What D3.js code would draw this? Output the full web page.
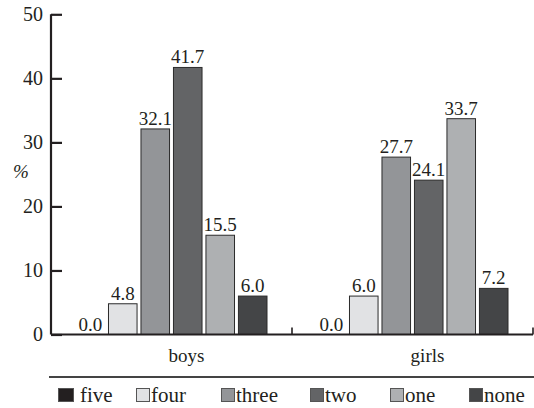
<!DOCTYPE html>
<html>
<head>
<meta charset="utf-8">
<script src="https://cdn.jsdelivr.net/npm/d3@7/dist/d3.min.js"></script>
<style>
  html, body { margin: 0; padding: 0; background: #fff; }
  svg { display: block; }
  svg text { font-family: "Liberation Serif", "Times New Roman", serif !important; fill: #231f20; }
  svg text.pct { font-style: italic; }
</style>
</head>
<body>
<svg id="chart" width="534" height="408"></svg>
<script>
// Share of children by number of items, per group (%)
const groups = ["boys", "girls"];
const series = ["five", "four", "three", "two", "one", "none"];
const boysValues = [0.0, 4.8, 32.1, 41.7, 15.5, 6.0];
const girlsValues = [0.0, 6.0, 27.7, 24.1, 33.7, 7.2];
const yTicks = [0, 10, 20, 30, 40, 50];
const seriesColors = ["#231f20", "#e1e2e4", "#939598", "#636466", "#aeb0b2", "#444547"];

const valuesByGroup = { boys: boysValues, girls: girlsValues };

const svg = d3.select("#chart");
const axisColor = "#231f20";

const x0 = d3.scaleBand().domain(groups).range([51, 533]).padding(0);
const groupWidth = 192;
const x1 = d3.scaleBand().domain(series).range([0, groupWidth]).paddingInner(0.09).paddingOuter(0);
const y = d3.scaleLinear().domain([0, 50]).range([334.5, 14.3]);
const color = d3.scaleOrdinal().domain(series).range(seriesColors);

// bars
const g = svg.append("g");
groups.forEach(grp => {
  const start = x0(grp) + (x0.bandwidth() - groupWidth) / 2;
  const rows = series.map((s, i) => ({ s, v: valuesByGroup[grp][i] }));
  const gg = g.append("g").attr("transform", `translate(${start},0)`);
  gg.selectAll("rect").data(rows.filter(d => d.v > 0)).join("rect")
    .attr("x", d => x1(d.s) + 0.5)
    .attr("y", d => y(d.v))
    .attr("width", x1.bandwidth() - 1)
    .attr("height", d => y(0) - y(d.v))
    .attr("fill", d => color(d.s))
    .attr("stroke", "#2b2b2b")
    .attr("stroke-width", 1);
  gg.selectAll("text").data(rows).join("text")
    .attr("x", d => x1(d.s) + x1.bandwidth() / 2)
    .attr("y", d => y(d.v) - 4)
    .attr("text-anchor", "middle")
    .style("font-size", "19px")
    .text(d => d.v.toFixed(1));
});

// y axis
const yAxis = d3.axisRight(y).tickValues(yTicks).tickSize(11).tickFormat("");
const ya = svg.append("g").attr("transform", "translate(51,0)").call(yAxis);
ya.select(".domain").attr("stroke", axisColor).attr("stroke-width", 2.2)
  .attr("d", `M0,${y(50)}V${y(0)}`);
ya.selectAll(".tick line").attr("stroke", axisColor).attr("stroke-width", 2.2);
svg.append("g").selectAll("text").data(yTicks).join("text")
  .attr("x", 43)
  .attr("y", d => y(d) + 6.5)
  .attr("text-anchor", "end")
  .style("font-size", "20px")
  .text(d => d);

// % label
svg.append("text")
  .attr("class", "pct")
  .attr("x", 21).attr("y", 178)
  .attr("text-anchor", "middle")
  .style("font-size", "19px")
  .text("%");

// x axis baseline with group boundary ticks
svg.append("line")
  .attr("x1", 51).attr("x2", 533).attr("y1", y(0)).attr("y2", y(0))
  .attr("stroke", axisColor).attr("stroke-width", 2.2);
svg.append("g").selectAll("line").data(groups).join("line")
  .attr("x1", d => x0(d) + x0.bandwidth())
  .attr("x2", d => x0(d) + x0.bandwidth())
  .attr("y1", y(0)).attr("y2", y(0) - 7)
  .attr("stroke", axisColor).attr("stroke-width", 1.6);
svg.append("g").selectAll("text").data(groups).join("text")
  .attr("x", d => x0(d) + x0.bandwidth() / 2 + 15)
  .attr("y", 362)
  .attr("text-anchor", "middle")
  .style("font-size", "19px")
  .text(d => d);

// legend
svg.append("line")
  .attr("x1", 49).attr("x2", 534).attr("y1", 377).attr("y2", 377)
  .attr("stroke", "#444").attr("stroke-width", 2);
const legendX = [58, 136, 221, 310, 390, 469];
const lg = svg.append("g").selectAll("g").data(series).join("g")
  .attr("transform", (d, i) => `translate(${legendX[i]},388)`);
lg.append("rect")
  .attr("x", 0.5).attr("y", 0.5)
  .attr("width", (d, i) => i === 0 ? 15 : 13).attr("height", 13)
  .attr("fill", d => color(d))
  .attr("stroke", "#555").attr("stroke-width", 1);
lg.append("text")
  .attr("x", (d, i) => i === 0 ? 22 : 15)
  .attr("y", 14)
  .style("font-size", "21px")
  .text(d => d);
</script>
</body>
</html>
